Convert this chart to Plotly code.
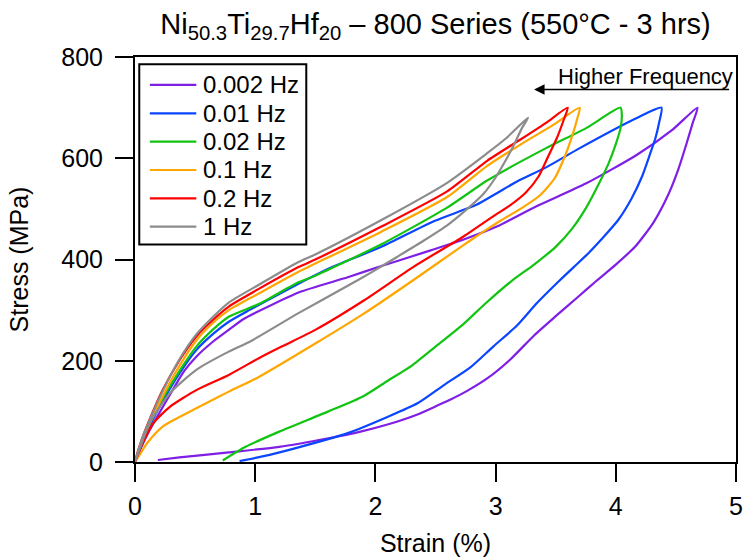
import plotly.graph_objects as go

# Hysteresis loops (stress vs. strain) at six loading frequencies
labels = ["0.002 Hz", "0.01 Hz", "0.02 Hz", "0.1 Hz", "0.2 Hz", "1 Hz"]
colors = ["#7F1FE6", "#0A45FF", "#12C412", "#FFA600", "#FF0000", "#8C8C8C"]

strain_0002 = [0, 0.05, 0.12, 0.21, 0.32, 0.41, 0.51, 0.65, 0.78, 0.90, 1.03, 1.36, 1.77, 2.05,
               2.46, 2.74, 3.01, 3.34, 3.75, 4.17, 4.47, 4.68,
               4.64, 4.59, 4.52, 4.44, 4.31, 4.16, 4.00, 3.84, 3.68, 3.50, 3.32, 3.12, 2.93,
               2.76, 2.63, 2.52, 2.35, 2.10, 1.86, 1.61, 1.20, 0.78, 0.37, 0.19]
stress_0002 = [0, 28, 62, 100, 145, 180, 208, 238, 261, 282, 298, 335, 365, 387,
               418, 440, 465, 505, 550, 606, 656, 700,
               670, 630, 578, 530, 472, 425, 390, 358, 325, 288, 250, 202, 165,
               140, 124, 112, 94, 74, 59, 47, 30, 19, 9, 4]

strain_001 = [0, 0.05, 0.12, 0.23, 0.37, 0.51, 0.65, 0.78, 0.95, 1.36, 1.64, 2.05, 2.49, 2.84,
              3.01, 3.20, 3.42, 3.70, 4.17, 4.38,
              4.36, 4.33, 4.28, 4.22, 4.13, 4.02, 3.90, 3.77, 3.65, 3.53, 3.34, 3.18, 2.98,
              2.79, 2.57, 2.35, 2.10, 1.77, 1.33, 1.06, 0.87]
stress_001 = [0, 30, 70, 120, 175, 221, 253, 277, 300, 352, 385, 425, 476, 508,
              531, 557, 582, 620, 679, 700,
              670, 640, 605, 565, 520, 478, 445, 412, 385, 358, 313, 270, 228,
              187, 152, 116, 89, 57, 27, 11, 2]

strain_002 = [0, 0.05, 0.12, 0.23, 0.37, 0.51, 0.65, 0.78, 1.03, 1.36, 1.50, 2.05, 2.60, 2.93,
              3.42, 3.75, 4.04,
              4.05, 4.04, 4.00, 3.94, 3.86, 3.76, 3.64, 3.50, 3.32, 3.13, 2.92, 2.73, 2.50,
              2.30, 2.10, 1.90, 1.61, 1.20, 0.92, 0.73]
stress_002 = [0, 35, 75, 125, 180, 228, 262, 287, 312, 355, 368, 430, 503, 556,
              620, 659, 700,
              685, 660, 628, 590, 550, 505, 462, 425, 390, 357, 314, 272, 228,
              190, 160, 130, 100, 60, 30, 3]

strain_01 = [0, 0.05, 0.12, 0.23, 0.37, 0.51, 0.65, 0.78, 1.03, 1.36, 1.50, 2.05, 2.60, 2.93,
             3.20, 3.48, 3.70,
             3.68, 3.64, 3.58, 3.49, 3.37, 3.22, 3.05, 2.88, 2.73, 2.32, 1.91, 1.50, 1.03,
             0.78, 0.51, 0.23, 0.10, 0]
stress_01 = [0, 35, 75, 130, 190, 240, 275, 300, 333, 376, 392, 455, 524, 585,
             626, 666, 700,
             679, 646, 606, 560, 527, 502, 478, 452, 428, 360, 294, 234, 168,
             139, 106, 70, 37, 0]

strain_02 = [0, 0.05, 0.12, 0.23, 0.37, 0.51, 0.65, 0.78, 0.92, 1.03, 1.36, 1.50, 2.05, 2.60,
             2.93, 3.20, 3.42, 3.60,
             3.57, 3.51, 3.44, 3.36, 3.25, 3.12, 3.01, 2.73, 2.32, 1.91, 1.50, 1.22, 1.03,
             0.78, 0.51, 0.29, 0.15, 0.05, 0]
stress_02 = [0, 40, 83, 142, 201, 248, 281, 307, 327, 342, 385, 400, 465, 535,
             595, 636, 670, 700,
             678, 640, 605, 565, 532, 507, 490, 445, 386, 320, 261, 228, 205,
             172, 142, 109, 76, 30, 0]

strain_1 = [0, 0.05, 0.12, 0.23, 0.37, 0.51, 0.65, 0.78, 1.03, 1.36, 1.50, 2.05, 2.60, 2.93,
            3.09, 3.27,
            3.22, 3.15, 3.07, 3.00, 2.90, 2.75, 2.60, 2.40, 2.18, 1.97, 1.77, 1.36, 0.95,
            0.78, 0.51, 0.29, 0.12, 0]
stress_1 = [0, 40, 82, 140, 203, 252, 287, 315, 350, 395, 410, 478, 552, 610,
            640, 680,
            660, 625, 590, 562, 530, 497, 468, 437, 405, 375, 348, 294, 237,
            218, 182, 136, 76, 0]

strains = [strain_0002, strain_001, strain_002, strain_01, strain_02, strain_1]
stresses = [stress_0002, stress_001, stress_002, stress_01, stress_02, stress_1]

font_family = "Liberation Sans, Arial, sans-serif"

fig = go.Figure()
for name, color, xs, ys in zip(labels, colors, strains, stresses):
    fig.add_trace(go.Scatter(
        x=xs, y=ys, name=name, mode="lines", showlegend=False,
        line=dict(color=color, width=2.2, shape="spline", smoothing=0.6),
    ))

axis_style = dict(
    showline=True, linecolor="black", linewidth=2, mirror=True,
    ticks="outside", ticklen=18, tickwidth=2, tickcolor="black",
    showgrid=False, zeroline=False, ticklabeloverflow="allow",
    tickfont=dict(size=25, color="black", family=font_family),
)

fig.update_layout(
    width=748, height=558,
    margin=dict(l=135, r=5, t=57, b=96),
    paper_bgcolor="white", plot_bgcolor="white",
    font=dict(family=font_family, color="black"),
    title=dict(
        text="Ni<sub>50.3</sub>Ti<sub>29.7</sub>Hf<sub>20</sub> \u2013 800 Series (550\u00b0C - 3 hrs)",
        font=dict(size=29, color="black", family=font_family),
        x=0.5, xref="paper", xanchor="center",
        y=0.957, yref="container", yanchor="middle",
    ),
    xaxis=dict(range=[0, 5], tickvals=[0, 1, 2, 3, 4, 5], ticklabelstandoff=3,
               title=dict(text="Strain (%)", standoff=15,
                          font=dict(size=25, family=font_family)),
               **axis_style),
    yaxis=dict(range=[0, 800], tickvals=[0, 200, 400, 600, 800], ticklabelstandoff=7,
               title=dict(text="Stress (MPa)", standoff=26,
                          font=dict(size=25, family=font_family)),
               **axis_style),
)

# Boxed key: one line sample and label per frequency
box_left, box_right, box_top, box_bottom = 0.0071, 0.285, 0.982, 0.537
fig.add_shape(type="rect", xref="paper", yref="paper",
              x0=box_left, x1=box_right, y0=box_bottom, y1=box_top,
              line=dict(color="black", width=2), fillcolor="white", layer="above")
row_top, row_step = 0.931, 0.07
for i, (name, color) in enumerate(zip(labels, colors)):
    row_y = row_top - i * row_step
    fig.add_shape(type="line", xref="paper", yref="paper",
                  x0=0.0247, x1=0.102, y0=row_y, y1=row_y,
                  line=dict(color=color, width=2.2), layer="above")
    fig.add_annotation(x=0.110, y=row_y, xref="paper", yref="paper",
                       xanchor="left", yanchor="middle", text=name, showarrow=False,
                       font=dict(size=24, color="black", family=font_family))

# "Higher Frequency" label with a leftward arrow
fig.add_annotation(
    x=3.32, y=736, ax=4.955, ay=736, xref="x", yref="y", axref="x", ayref="y",
    text="", showarrow=True, arrowhead=2, arrowsize=1.4, arrowwidth=1.5,
    arrowcolor="black",
)
fig.add_annotation(
    x=4.245, y=762, xref="x", yref="y", text="Higher Frequency", showarrow=False,
    font=dict(size=22, color="black", family=font_family),
)

fig.write_html("out.html")
